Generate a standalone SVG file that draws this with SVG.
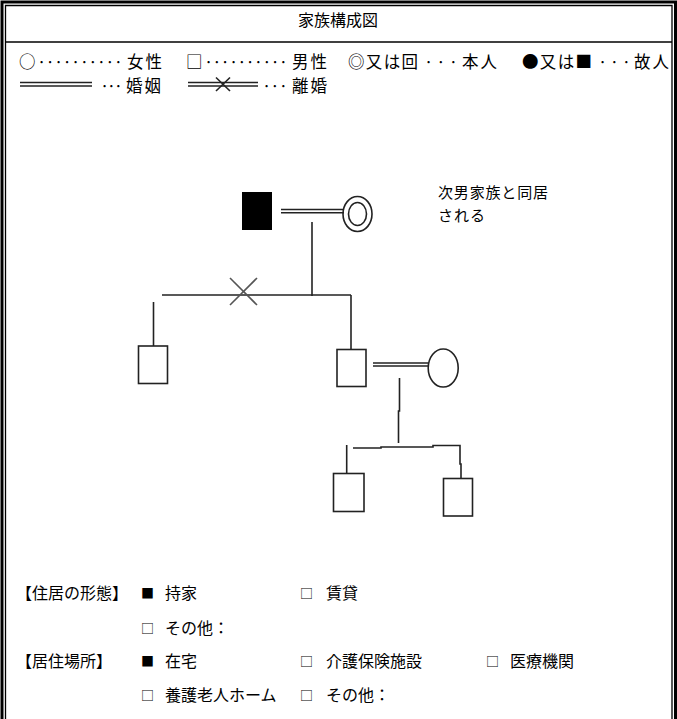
<svg xmlns="http://www.w3.org/2000/svg" width="677" height="719" viewBox="0 0 677 719">
<style>
.t{font-family:"Noto Sans CJK JP","Noto Sans",sans-serif;fill:#000}
.lg{font-size:16.5px}
.bt{font-size:16px}
.sym{font-size:13px}
.ln{stroke:#222;stroke-width:1.6;fill:none}
.gx{stroke:#555;stroke-width:1.6;fill:none}
.frame{fill:none;stroke:#000}
</style>
<rect width="677" height="719" fill="#fff"/>
<g id="frame">
<path class="frame" stroke-width="3" d="M2,719 V2 H675.5 V719"/>
<path class="frame" stroke-width="1.3" d="M5.5,719 V5.5 H672 V719"/>
<line class="frame" stroke-width="1.3" x1="5.5" y1="42" x2="672" y2="42"/>
</g>
<g id="title"><text class="t" x="338" y="26" font-size="16" text-anchor="middle">家族構成図</text></g>
<g id="legend" class="t lg">
<text x="19" y="67.5">○</text>
<text x="37" y="67.5" textLength="86" lengthAdjust="spacing">··········</text>
<text x="127" y="67.5" textLength="35" lengthAdjust="spacing">女性</text>
<text x="186" y="67.5">□</text>
<text x="204" y="67.5" textLength="84" lengthAdjust="spacing">··········</text>
<text x="292" y="67.5" textLength="35" lengthAdjust="spacing">男性</text>
<text x="348" y="67.5" textLength="70" lengthAdjust="spacing">◎又は回</text>
<text x="424" y="67.5" textLength="34" lengthAdjust="spacing">···</text>
<text x="462" y="67.5" textLength="35" lengthAdjust="spacing">本人</text>
<text x="522" y="67.5" textLength="70" lengthAdjust="spacing">●又は■</text>
<text x="598" y="67.5" textLength="33" lengthAdjust="spacing">···</text>
<text x="634" y="67.5" textLength="35" lengthAdjust="spacing">故人</text>
<g class="ln" stroke-width="1.2"><line x1="20" y1="82.5" x2="92" y2="82.5"/><line x1="20" y1="86" x2="92" y2="86"/>
<line x1="188" y1="82.5" x2="258" y2="82.5"/><line x1="188" y1="86" x2="258" y2="86"/>
<line x1="216" y1="77.5" x2="230" y2="91"/><line x1="230" y1="77.5" x2="216" y2="91"/></g>
<text x="100" y="91.5" textLength="23" lengthAdjust="spacing">···</text>
<text x="126" y="91.5" textLength="35" lengthAdjust="spacing">婚姻</text>
<text x="262" y="91.5" textLength="26" lengthAdjust="spacing">···</text>
<text x="292" y="91.5" textLength="35" lengthAdjust="spacing">離婚</text>
</g>
<g id="connectors">
<line class="ln" x1="281" y1="209.5" x2="344" y2="209.5"/>
<line class="ln" x1="281" y1="212.8" x2="344" y2="212.8"/>
<line class="ln" x1="312" y1="222" x2="312" y2="296"/>
<line class="ln" x1="162" y1="295" x2="351" y2="295"/>
<line class="ln" x1="351" y1="295" x2="351" y2="349"/>
<line class="ln" x1="153.5" y1="302" x2="153.5" y2="346"/>
<line class="gx" x1="230" y1="278" x2="257" y2="305"/>
<line class="gx" x1="257" y1="278" x2="230" y2="305"/>
<line class="ln" x1="373" y1="363" x2="428" y2="363"/>
<line class="ln" x1="373" y1="366" x2="428" y2="366"/>
<polyline class="ln" points="399.5,378 399.5,411 398.5,411 398.5,443"/>
<polyline class="ln" points="353,448 381,448 381,447 433,447 433,445.5 460,445.5 460,464 461,464 461,478"/>
<line class="ln" x1="346.7" y1="445" x2="346.7" y2="473"/>
</g>
<g id="father"><rect x="242" y="192" width="30" height="38" fill="#000"/></g>
<g id="mother-self"><ellipse cx="357.5" cy="214" rx="14.5" ry="17.5" class="ln"/><ellipse cx="357.5" cy="214" rx="9" ry="11.5" class="ln"/></g>
<g id="son1"><rect x="138.5" y="346" width="29" height="37.5" class="ln"/></g>
<g id="son2"><rect x="337" y="349.5" width="29" height="37" class="ln"/></g>
<g id="son2-wife"><ellipse cx="443.2" cy="368" rx="15" ry="19" class="ln"/></g>
<g id="grandchild1"><rect x="333.5" y="473.5" width="30.5" height="38" class="ln"/></g>
<g id="grandchild2"><rect x="443.5" y="478.5" width="29" height="37.5" class="ln"/></g>
<g id="note" class="t" font-size="15">
<text x="438" y="198" textLength="110" lengthAdjust="spacing">次男家族と同居</text>
<text x="438" y="220.5" textLength="47" lengthAdjust="spacing">される</text>
</g>
<g id="housing" class="t">
<text class="bt" x="16" y="599">【住居の形態】</text>
<text class="sym" x="141" y="598">■</text><text class="bt" x="165" y="599">持家</text>
<text class="sym" x="300" y="598">□</text><text class="bt" x="326" y="599">賃貸</text>
<text class="sym" x="141" y="633">□</text><text class="bt" x="165" y="634">その他：</text>
<text class="bt" x="16" y="667">【居住場所】</text>
<text class="sym" x="141" y="666">■</text><text class="bt" x="165" y="667">在宅</text>
<text class="sym" x="300" y="666">□</text><text class="bt" x="326" y="667">介護保険施設</text>
<text class="sym" x="486" y="666">□</text><text class="bt" x="510" y="667">医療機関</text>
<text class="sym" x="141" y="700">□</text><text class="bt" x="165" y="701">養護老人ホーム</text>
<text class="sym" x="300" y="700">□</text><text class="bt" x="326" y="701">その他：</text>
</g>
</svg>
